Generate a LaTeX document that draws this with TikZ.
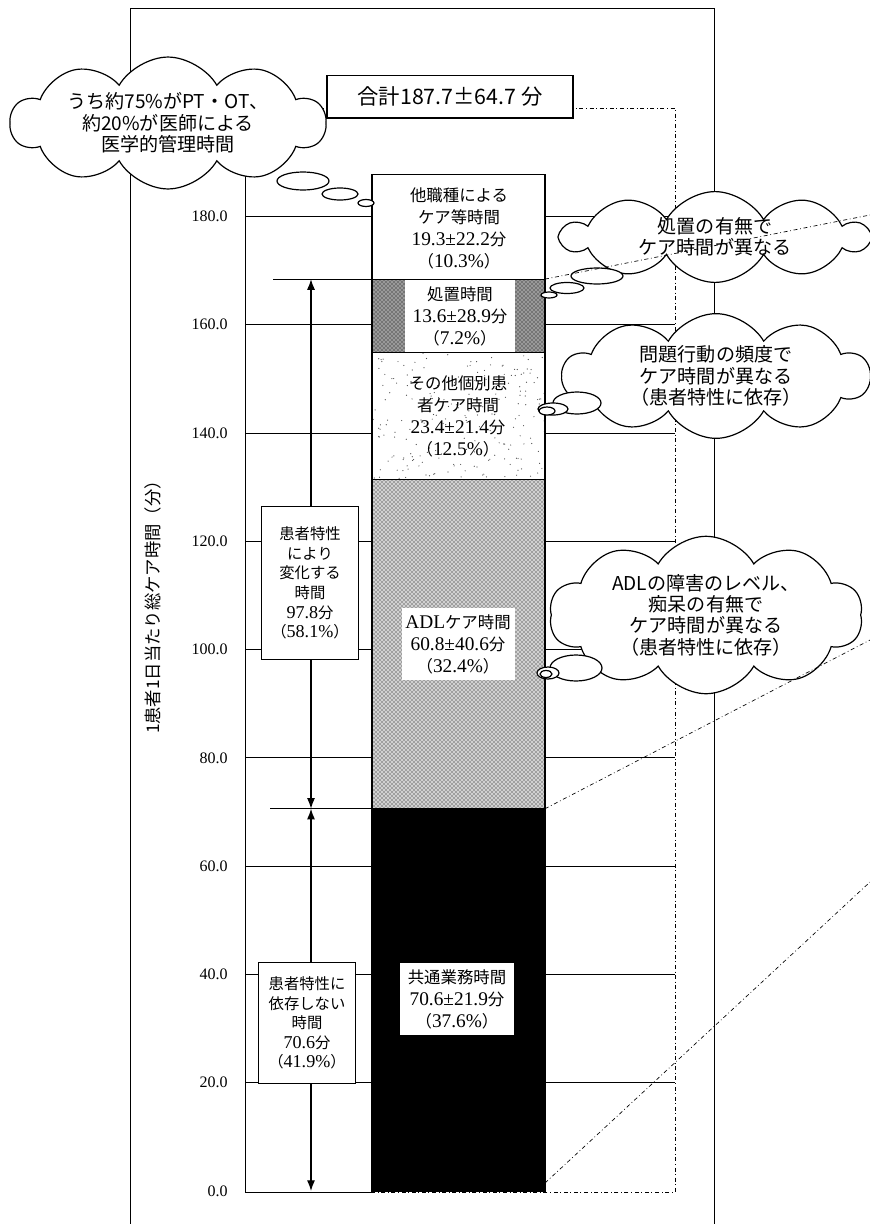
\documentclass[tikz,border=0pt]{standalone}
\usepackage{fontspec}
\setmainfont{Liberation Serif}
\newfontfamily\jp{Noto Sans CJK JP}
\newfontfamily\nmfont[Scale=1.18]{Liberation Serif}
\usetikzlibrary{shapes.symbols,patterns,arrows.meta}

\newcommand{\nm}[1]{{\nmfont #1}}
\newcommand{\lv}[1]{1191-5.415*#1}

\begin{document}
\begin{tikzpicture}[x=0.75pt,y=-0.75pt,line width=0.6pt,>={Latex[length=8pt,width=6pt]}]
	\tikzstyle{every node}=[inner sep=0pt,align=center];
	\tikzstyle{segment}=[draw,line width=0.9pt];
	\tikzstyle{barlabel}=[font=\jp\fontsize{12.3}{16.5}\selectfont];
	\tikzstyle{sidebox}=[draw,fill=white,line width=0.9pt,minimum width=72.75pt,font=\jp\fontsize{11.5}{14.7}\selectfont];
	\tikzstyle{thought}=[draw,fill=white,line width=0.9pt,cloud,cloud puffs=10,cloud puff arc=120,cloud ignores aspect,font=\jp\fontsize{14.3}{16}\selectfont];
	\tikzstyle{bubble}=[draw,fill=white,line width=0.9pt];
	\tikzstyle{guide}=[dash dot,line width=0.5pt];
	\useasboundingbox (0,0) rectangle (870,1224);

	% frame and plot area
	\draw (130,1224) -- (130,8) -- (714,8) -- (714,1224);
	\draw[guide] (245,108) -- (675,108) -- (675,1192) -- (245,1192);
	\draw (245,108) -- (245,1192) -- (372,1192);
	\foreach \v in {20,40,...,180}
		\draw (245,\lv{\v}) -- (675,\lv{\v});
	\foreach \v in {0,20,...,180}
		\node[anchor=east,font=\fontsize{12}{12}\selectfont] (tick\v) at (228,\lv{\v}) {\v.0};
	\node[rotate=90,font=\jp\fontsize{13}{13}\selectfont] (ylabel) at (153,603) {1患者1日当たり総ケア時間（分）};

	% stacked bar
	\path[segment,fill=black] (372,\lv{0}) rectangle (545,\lv{70.6});
	\path[fill=black!18] (372,\lv{70.6}) rectangle (545,\lv{131.4});
	\path[segment,pattern=crosshatch dots,pattern color=black] (372,\lv{70.6}) rectangle (545,\lv{131.4});
	\path[fill=white] (372,\lv{131.4}) rectangle (545,\lv{154.8});
	\pgfmathsetseed{12}
	\foreach \i in {1,...,220}
		\fill[black!70] ({372+173*rnd},{\lv{154.8}+126*rnd}) circle[radius=0.6];
	\path[segment] (372,\lv{131.4}) rectangle (545,\lv{154.8});
	\path[fill=black!40] (372,\lv{154.8}) rectangle (545,\lv{168.4});
	\path[segment,pattern=crosshatch dots,pattern color=black] (372,\lv{154.8}) rectangle (545,\lv{168.4});
	\path[segment,fill=white] (372,\lv{168.4}) rectangle (545,\lv{187.7});

	\node[barlabel] (lbltasyoku) at (459,228) {他職種による\\ケア等時間\\\nm{19.3±22.2}分\\（\nm{10.3\%}）};
	\node[barlabel,fill=white,minimum width=82.5pt,minimum height=54pt] (lblsyochi) at (460,316) {処置時間\\\nm{13.6±28.9}分\\（\nm{7.2\%}）};
	\node[barlabel] (lblkobetsu) at (458,416) {その他個別患\\者ケア時間\\\nm{23.4±21.4}分\\（\nm{12.5\%}）};
	\node[barlabel,fill=white,minimum width=84.75pt,minimum height=54pt] (lbladl) at (458,644) {\nm{ADL}ケア時間\\\nm{60.8±40.6}分\\（\nm{32.4\%}）};
	\node[barlabel,fill=white,minimum width=86pt,minimum height=54pt] (lblkyotsu) at (457,999) {共通業務時間\\\nm{70.6±21.9}分\\（\nm{37.6\%}）};

	% patient dependent / independent parts
	\coordinate (m1) at (311,\lv{168.4});
	\coordinate (m2) at (311,\lv{70.6});
	\coordinate (m3) at (311,\lv{0});
	\coordinate (t1) at (273,\lv{168.4});
	\coordinate (t2) at (270,\lv{70.6});
	\coordinate (b1) at (372,\lv{168.4});
	\coordinate (b2) at (372,\lv{70.6});
	\draw (t1) -- (b1);
	\draw (t2) -- (b2);
	\draw[<->,line width=0.9pt] (m1) -- (m2);
	\draw[<->,line width=0.9pt] (m2) -- (m3);
	\node[sidebox,minimum height=114.75pt] (henka) at (310,583) {患者特性\\により\\変化する\\時間\\\nm{97.8}分\\（\nm{58.1\%}）};
	\node[sidebox,minimum height=90.75pt] (izon) at (307,1023) {患者特性に\\依存しない\\時間\\\nm{70.6}分\\（\nm{41.9\%}）};

	% clouds
	\node[thought,minimum width=236pt,minimum height=77pt] (cloudpt) at (168,123) {うち約75\%がPT・OT、\\約20\%が医師による\\医学的管理時間};
	\node[thought,minimum width=229pt,minimum height=68pt] (cloudsyochi) at (715,237) {処置の有無で\\ケア時間が異なる};
	\node[thought,minimum width=230pt,minimum height=91pt] (cloudmondai) at (716,376) {問題行動の頻度で\\ケア時間が異なる\\（患者特性に依存）};
	\node[thought,minimum width=235pt,minimum height=108pt] (cloudadl) at (706,615) {ADLの障害のレベル、\\痴呆の有無で\\ケア時間が異なる\\（患者特性に依存）};

	\draw[bubble] (303,181) ellipse [x radius=26,y radius=9];
	\draw[bubble] (340,194) ellipse [x radius=18,y radius=6];
	\draw[bubble] (366,203) ellipse [x radius=8,y radius=3.5];
	\draw[bubble] (597,276) ellipse [x radius=26,y radius=8];
	\draw[bubble] (567,288) ellipse [x radius=17,y radius=5.5];
	\draw[bubble] (549,295) ellipse [x radius=8,y radius=3];
	\draw[bubble] (577,403) ellipse [x radius=24,y radius=11];
	\draw[bubble] (553,409) ellipse [x radius=15,y radius=6];
	\draw[bubble] (547,411) ellipse [x radius=8,y radius=4];
	\draw[bubble] (576,668) ellipse [x radius=26,y radius=13];
	\draw[bubble] (548,673) ellipse [x radius=11,y radius=6];
	\draw[bubble] (546,674) ellipse [x radius=6,y radius=3.5];

	% lines towards the detail on the right
	\coordinate (c1) at (545,\lv{168.4});
	\coordinate (c2) at (545,\lv{70.6});
	\coordinate (c3) at (545,1183);
	\coordinate (g1) at (870,215);
	\coordinate (g2) at (870,640);
	\coordinate (g3) at (870,882);
	\draw[guide] (c1) -- (g1);
	\draw[guide] (c2) -- (g2);
	\draw[guide] (c3) -- (g3);

	\node[draw,fill=white,line width=1pt,minimum width=184.5pt,minimum height=32pt,font=\jp\fontsize{16}{16}\selectfont] (total) at (450,96.5) {合計187.7±64.7 分};
\end{tikzpicture}
\end{document}
